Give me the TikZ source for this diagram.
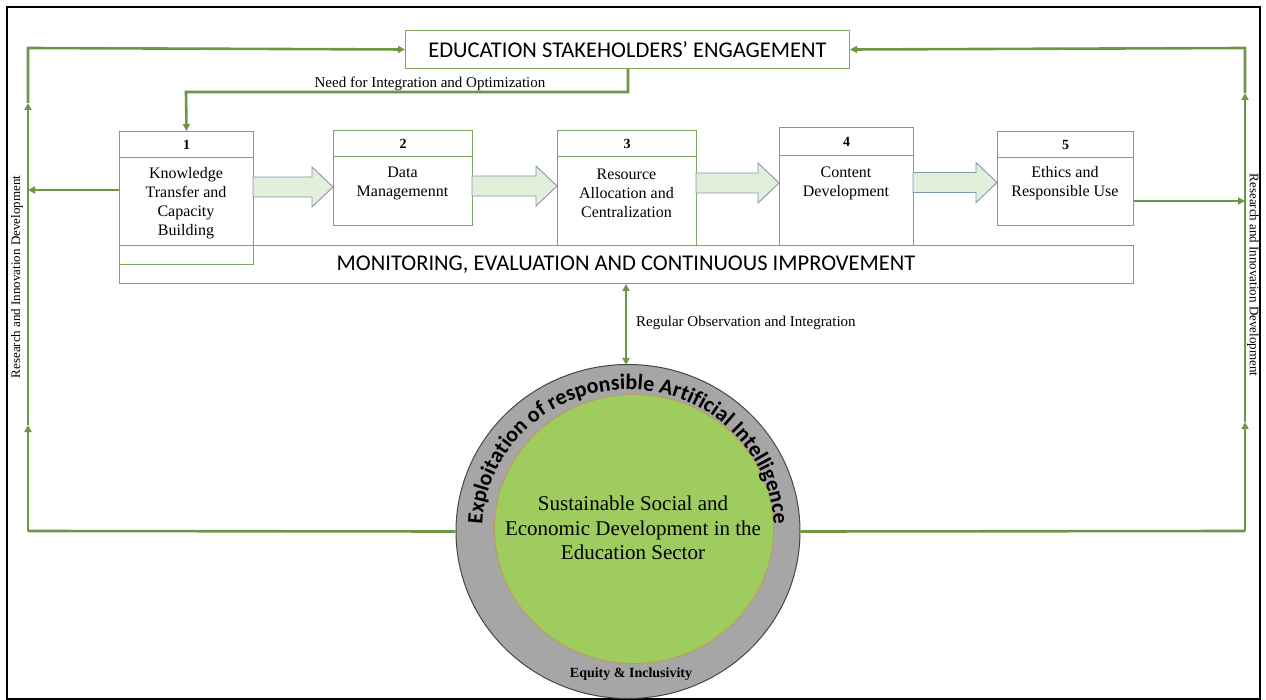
\documentclass[tikz,border=0pt]{standalone}
\usepackage{fontspec}
\setmainfont{Liberation Serif}
\newfontfamily\calibri{Carlito}
\usetikzlibrary{arrows.meta,shapes.geometric,decorations.text,calc}
\definecolor{lgreen}{RGB}{108,152,70}
\definecolor{bgreen}{RGB}{128,166,96}
\definecolor{afill}{RGB}{226,239,218}
\definecolor{aedge}{RGB}{132,151,176}
\definecolor{ringgray}{RGB}{166,166,166}
\definecolor{ringedge}{RGB}{70,70,70}
\definecolor{cgreen}{RGB}{158,204,94}
\definecolor{cedge}{RGB}{196,150,90}
\newcommand\blockarr[3]{\draw[draw=aedge, fill=afill, line width=0.9pt] (#1,#3-10) -- (#2-21,#3-10) -- (#2-21,#3-20) -- (#2,#3) -- (#2-21,#3+20) -- (#2-21,#3+10) -- (#1,#3+10) -- cycle;}
\begin{document}
\begin{tikzpicture}[x=1pt,y=-1pt,
  gline/.style={draw=lgreen, line width=2.6pt},
  gtip/.style={-{Triangle[length=7pt,width=7pt]}},
  gboth/.style={{Triangle[length=7pt,width=7pt]}-{Triangle[length=7pt,width=7pt]}},
  boxst/.style={draw=bgreen, line width=1pt, inner sep=0, anchor=north west},
  numst/.style={font=\bfseries\fontsize{14}{16}\selectfont},
  btext/.style={align=center, font=\fontsize{16}{19}\selectfont, inner sep=0},
  ltext/.style={font=\fontsize{15}{17}\selectfont, inner sep=0},
  bigcap/.style={font=\calibri\fontsize{22.5}{26}\selectfont, inner sep=0}]
\useasboundingbox (0,0) rectangle (1266,700);
\fill[white] (0,0) rectangle (1266,700);
% frame
\draw[black, line width=1.6pt] (7,7) rectangle (1260,699);

% stakeholders box
\node[boxst, minimum width=444, minimum height=38] (esh) at (405,30) {};
\node[bigcap] (eshT) at (esh.center) {EDUCATION STAKEHOLDERS’ ENGAGEMENT};

% monitoring box
\node[boxst, minimum width=1014, minimum height=38] (mon) at (119,245) {};
\node[bigcap] (monT) at (626,265) {MONITORING, EVALUATION AND CONTINUOUS IMPROVEMENT};

% box 1
\node[boxst, minimum width=134, minimum height=26] (h1) at (119,131) {};
\node[numst] at (h1.center) {1};
\node[boxst, minimum width=134, minimum height=107] (b1) at (119,157) {};
\node[btext] (t1) at (186,203) {Knowledge\\Transfer and\\Capacity\\Building};
% box 2
\node[boxst, minimum width=139, minimum height=26] (h2) at (333,130) {};
\node[numst] at (h2.center) {2};
\node[boxst, minimum width=139, minimum height=69] (b2) at (333,156) {};
\node[btext] (t2) at (402.5,183) {Data\\Managemennt};
% box 3
\node[boxst, minimum width=139, minimum height=26] (h3) at (557,130) {};
\node[numst] at (h3.center) {3};
\node[boxst, minimum width=139, minimum height=89] (b3) at (557,156) {};
\node[btext] (t3) at (626.5,193) {Resource\\Allocation and\\Centralization};
% box 4
\node[boxst, minimum width=134, minimum height=28] (h4) at (779,127) {};
\node[numst] at (h4.center) {4};
\node[boxst, minimum width=134, minimum height=90] (b4) at (779,155) {};
\node[btext] (t4) at (846,183.5) {Content\\Development};
% box 5
\node[boxst, minimum width=136, minimum height=26] (h5) at (997,131) {};
\node[numst] at (h5.center) {5};
\node[boxst, minimum width=136, minimum height=68] (b5) at (997,157) {};
\node[btext] (t5) at (1065,183.5) {Ethics and\\Responsible Use};

% block arrows
\blockarr{253}{333}{187}
\blockarr{472}{557}{186}
\blockarr{696}{779}{183}
\blockarr{913}{997}{182.5}

% circle
\node[ellipse, draw=ringedge, line width=1pt, fill=ringgray, minimum width=344, minimum height=334, inner sep=0] (ring) at (628,531.5) {};
\node[ellipse, draw=cedge, line width=0.8pt, fill=cgreen, minimum width=279, minimum height=269, inner sep=0] (core) at (634,529) {};
\node[align=center, font=\fontsize{21}{24.5}\selectfont, inner sep=0] (coreT) at (633,528) {Sustainable Social and\\Economic Development in the\\Education Sector};
\path[decorate, decoration={text along path, text align=center,
  text={|\calibri\bfseries\fontsize{22}{25}\selectfont|Exploitation of responsible Artificial Intelligence}}]
  (628,531.5) ++(180:146 and 142) arc[start angle=180, end angle=360, x radius=146, y radius=142];
\node[font=\bfseries\fontsize{14}{16}\selectfont, inner sep=0] (eq) at (631,674) {Equity \& Inclusivity};

% loops
\coordinate (LB) at (28,531);
\coordinate (LT) at (28,48);
\coordinate (RB) at (1245,531);
\coordinate (RT) at (1245,48);
\draw[gline] (ring.west) -- (LB);
\draw[gline,gtip] (LB) -- (28,425);
\draw[gline,gtip] (28,425) -- (28,103);
\draw[gline,gtip] (28,103) -- (LT) -- (esh.west);
\draw[gline] (ring.east) -- (RB);
\draw[gline,gtip] (RB) -- (1245,422);
\draw[gline,gtip] (1245,422) -- (1245,93);
\draw[gline,gtip] (1245,93) -- (RT) -- (esh.east);
\draw[gline,gtip] (b1.north west |- 0,190) -- (28,190);
\draw[gline,gtip] (b5.north east |- 0,201) -- (1245,201);

% need for integration
\draw[gline,gtip] (esh.south -| 628,0) -- (628,92) -- (186,92) -- (h1.north);
\node[ltext] (needT) at (430,84) {Need for Integration and Optimization};

% regular observation
\draw[gline,gboth] (mon.south -| 626,0) -- (626,365);
\node[ltext, anchor=west] (regT) at (636,323) {Regular Observation and Integration};

% side labels
\node[ltext, font=\fontsize{13}{15}\selectfont, rotate=90] (sideL) at (17,277) {Research and Innovation Development};
\node[ltext, font=\fontsize{13}{15}\selectfont, rotate=-90] (sideR) at (1253,275) {Research and Innovation Development};
\end{tikzpicture}
\end{document}
